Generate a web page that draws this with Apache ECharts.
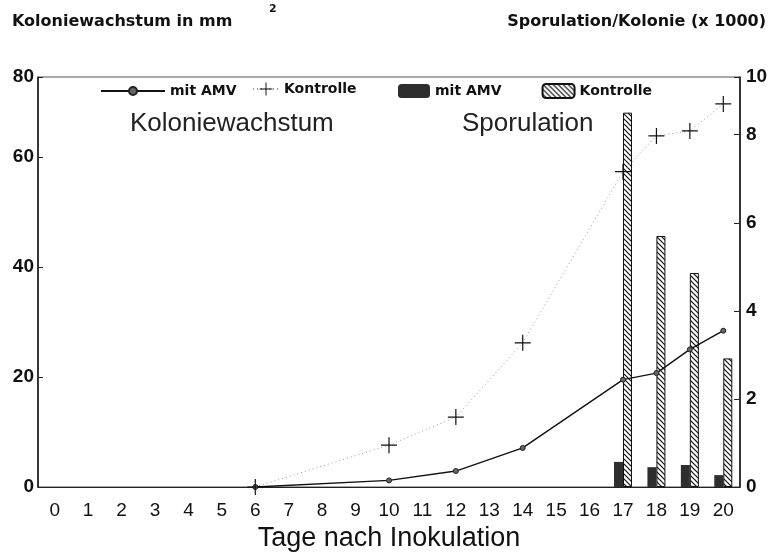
<!DOCTYPE html>
<html>
<head>
<meta charset="utf-8">
<script src="https://cdn.jsdelivr.net/npm/echarts@6/dist/echarts.min.js"></script>
<style>html,body{margin:0;padding:0;background:#fff}#c{width:778px;height:554px}</style>
</head>
<body>
<div id="c"></div>
<script>
// ---- data ----
const days = ['0','1','2','3','4','5','6','7','8','9','10','11','12','13','14','15','16','17','18','19','20'];
// Koloniewachstum (mm^2), left axis
const growthAMV =       [null,null,null,null,null,null,0,null,null,null,1.2,null,2.9,null,7.1,null,null,19.5,20.7,25.0,28.4];
const growthKontrolle = [null,null,null,null,null,null,0,null,null,null,7.6,null,12.7,null,26.2,null,null,57.3,63.8,64.7,69.6];
// Sporulation / Kolonie (x 1000), right axis
const sporAMV =         [null,null,null,null,null,null,null,null,null,null,null,null,null,null,null,null,null,0.57,0.45,0.50,0.27];
const sporKontrolle =   [null,null,null,null,null,null,null,null,null,null,null,null,null,null,null,null,null,8.5,5.7,4.86,2.92];
// tick labels
const leftTickLabels = ['0','20','40','60','80'];
const rightTickLabels = ['0','2','4','6','8','10'];

const FONT = '"Liberation Sans", Arial, Helvetica, sans-serif';
const WIDE = '"DejaVu Sans", "Liberation Sans", sans-serif';

function hatch(){
  const s = 5;
  const c = document.createElement('canvas'); c.width = s; c.height = s;
  const g = c.getContext('2d');
  g.fillStyle = '#fff'; g.fillRect(0,0,s,s);
  g.strokeStyle = '#111'; g.lineWidth = 1.2;
  g.beginPath();
  g.moveTo(-1,-1); g.lineTo(s+1,s+1);
  g.moveTo(-1,s-1); g.lineTo(1,s+1);
  g.moveTo(s-1,-1); g.lineTo(s+1,1);
  g.stroke();
  return c;
}
const plusPath = 'path://M7.4,0 L8.6,0 L8.6,7.4 L16,7.4 L16,8.6 L8.6,8.6 L8.6,16 L7.4,16 L7.4,8.6 L0,8.6 L0,7.4 L7.4,7.4 Z';

const chart = echarts.init(document.getElementById('c'), null, {renderer:'canvas'});
const legendText = {fontFamily: WIDE, fontSize: 14, fontWeight: 'bold', color: '#111'};
chart.setOption({
  animation: false,
  backgroundColor: '#fff',
  grid: {left: 38, right: 38, top: 77, bottom: 67, show: true, borderColor: '#555', borderWidth: 1,
         backgroundColor: 'transparent', containLabel: false, outerBoundsMode: 'none'},
  legend: [
    {data: ['mit AMV'], left: 100, top: 84, padding: 0, itemWidth: 64, itemHeight: 10, textStyle: legendText, selectedMode: false},
    {data: ['Kontrolle'], left: 252, top: 82, padding: 0, itemWidth: 26, itemHeight: 16, textStyle: legendText, selectedMode: false},
    {data: ['mit AMV ', 'Kontrolle '], left: 398, top: 83, padding: 0, itemWidth: 32, itemHeight: 14, itemGap: 40,
     textStyle: legendText, selectedMode: false, formatter: n => n.trim()}
  ],
  graphic: [
    {type: 'text', left: 12, top: 14, style: {text: 'Koloniewachstum in mm', font: 'bold 16px ' + WIDE, fill: '#111'}},
    {type: 'text', left: 269, top: 4, style: {text: '2', font: 'bold 11px ' + WIDE, fill: '#111'}},
    {type: 'text', right: 12, top: 14, style: {text: 'Sporulation/Kolonie (x 1000)', font: 'bold 16px ' + WIDE, fill: '#111'}},
    {type: 'text', left: 130, top: 111, style: {text: 'Koloniewachstum', font: '26px ' + FONT, fill: '#222'}},
    {type: 'text', left: 462, top: 111, style: {text: 'Sporulation', font: '26px ' + FONT, fill: '#222'}}
  ],
  xAxis: {
    type: 'category', data: days, boundaryGap: true,
    axisLine: {lineStyle: {color: '#222', width: 1.2}},
    axisTick: {alignWithLabel: true, inside: true, length: 6, lineStyle: {color: '#222'}},
    axisLabel: {fontFamily: FONT, fontSize: 19, color: '#111', margin: 14},
    name: 'Tage nach Inokulation', nameLocation: 'middle', nameGap: 37,
    nameTextStyle: {fontFamily: FONT, fontSize: 27, color: '#111'}
  },
  yAxis: [
    {type: 'value', min: 0, max: 74.5, interval: 20, position: 'left',
     axisLine: {show: true, lineStyle: {color: '#111', width: 1.5}},
     axisTick: {show: true, inside: true, length: 5, lineStyle: {color: '#222'}},
     splitLine: {show: false},
     axisLabel: {fontFamily: FONT, fontSize: 19, fontWeight: 'bold', color: '#111', margin: 4,
                 formatter: (v, i) => leftTickLabels[i]}},
    {type: 'value', min: 0, max: 9.31, interval: 2, position: 'right',
     axisLine: {show: true, lineStyle: {color: '#111', width: 1.5}},
     axisTick: {show: true, inside: true, length: 6, lineStyle: {color: '#222'}},
     splitLine: {show: false},
     axisLabel: {fontFamily: FONT, fontSize: 19, fontWeight: 'bold', color: '#111', margin: 6,
                 formatter: (v, i) => rightTickLabels[i]}}
  ],
  series: [
    {name: 'mit AMV', type: 'line', yAxisIndex: 0, data: growthAMV, connectNulls: true,
     symbol: 'circle', symbolSize: 5, lineStyle: {color: '#111', width: 1.4},
     itemStyle: {color: '#666', borderColor: '#222', borderWidth: 1}, z: 5},
    {name: 'Kontrolle', type: 'line', yAxisIndex: 0, data: growthKontrolle, connectNulls: true,
     symbol: plusPath, symbolSize: 16, lineStyle: {color: '#999', width: 1, type: [1, 3]},
     itemStyle: {color: '#111'}, z: 5},
    {name: 'mit AMV ', type: 'bar', yAxisIndex: 1, data: sporAMV, barWidth: 9, barGap: '0%',
     itemStyle: {color: '#2e2e2e'}},
    {name: 'Kontrolle ', type: 'bar', yAxisIndex: 1, data: sporKontrolle, barWidth: 9, barGap: '0%',
     itemStyle: {color: {image: hatch(), repeat: 'repeat'}, borderColor: '#111', borderWidth: 1}}
  ]
});
</script>
</body>
</html>
